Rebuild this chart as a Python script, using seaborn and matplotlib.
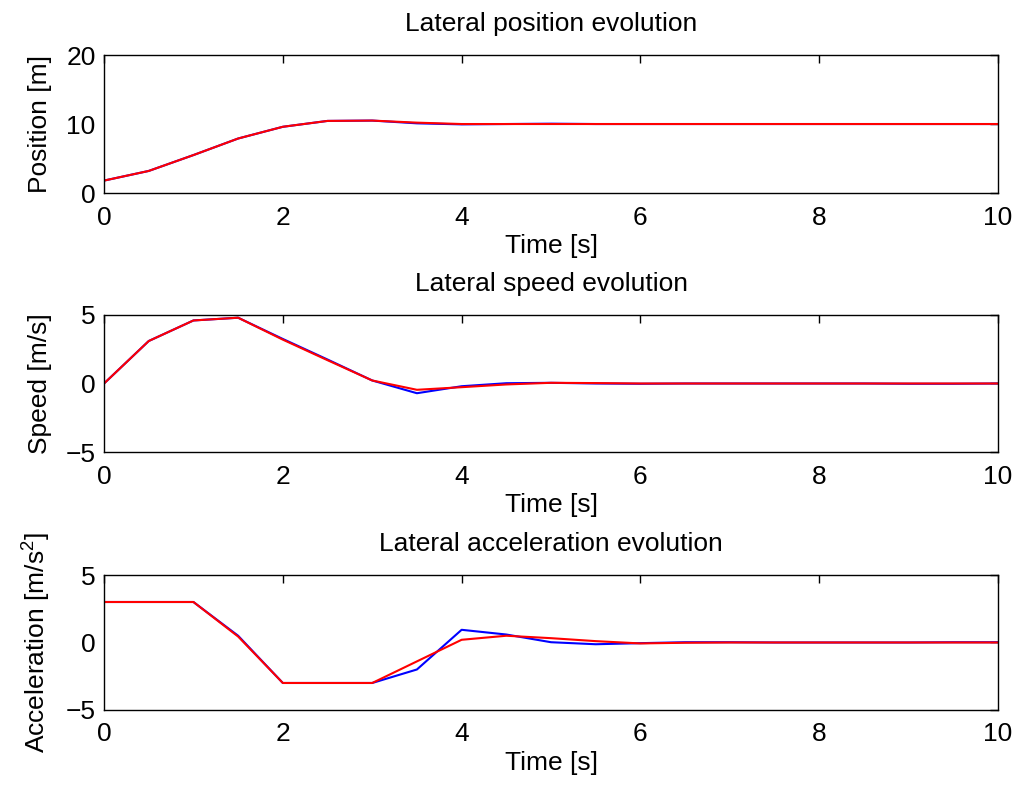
import matplotlib
matplotlib.use("Agg")
import matplotlib.pyplot as plt
import seaborn as sns
import pandas as pd

# time samples (0.5 s step)
time = [0.0, 0.5, 1.0, 1.5, 2.0, 2.5, 3.0, 3.5, 4.0, 4.5, 5.0,
        5.5, 6.0, 6.5, 7.0, 7.5, 8.0, 8.5, 9.0, 9.5, 10.0]

pos_blue = [1.8, 3.2, 5.5, 7.9, 9.6, 10.45, 10.5, 10.1, 9.95, 10.0, 10.05,
            10.0, 10.0, 10.0, 10.0, 10.0, 10.0, 10.0, 10.0, 10.0, 10.0]
pos_red = [1.8, 3.2, 5.5, 7.9, 9.6, 10.45, 10.5, 10.2, 10.0, 10.0, 10.0,
           10.0, 10.0, 10.0, 10.0, 10.0, 10.0, 10.0, 10.0, 10.0, 10.0]

speed_blue = [0.0, 3.1, 4.6, 4.8, 3.25, 1.75, 0.22, -0.71, -0.2, 0.02, 0.05,
              0.0, -0.02, 0.0, 0.0, 0.0, 0.0, 0.0, -0.02, -0.02, 0.0]
speed_red = [0.0, 3.1, 4.6, 4.8, 3.2, 1.7, 0.22, -0.46, -0.27, -0.07, 0.05,
             0.03, 0.0, 0.0, 0.0, 0.0, 0.0, 0.0, 0.0, 0.0, 0.0]

acc_blue = [3.0, 3.0, 3.0, 0.5, -3.0, -3.0, -3.0, -2.0, 0.94, 0.59, 0.02,
            -0.13, -0.05, 0.02, 0.02, 0.0, 0.0, 0.0, 0.0, 0.02, 0.02]
acc_red = [3.0, 3.0, 3.0, 0.44, -3.0, -3.0, -3.0, -1.4, 0.2, 0.5, 0.32,
           0.1, -0.07, -0.02, 0.0, 0.0, 0.0, 0.0, 0.0, 0.0, 0.0]

panels = [
    ("Lateral position evolution", "Position [m]", pos_blue, pos_red, (0, 20), [0, 10, 20]),
    ("Lateral speed evolution", "Speed [m/s]", speed_blue, speed_red, (-5, 5), [-5, 0, 5]),
    ("Lateral acceleration evolution", "Acceleration [m/s$^2$]", acc_blue, acc_red, (-5, 5), [-5, 0, 5]),
]

sns.set_style("white")
plt.rcParams['font.family'] = ['Liberation Sans', 'DejaVu Sans']
plt.rcParams['mathtext.fontset'] = 'custom'
plt.rcParams['mathtext.rm'] = 'Liberation Sans'
plt.rcParams['font.size'] = 19
for k in ['text.color', 'axes.labelcolor', 'xtick.color', 'ytick.color']:
    plt.rcParams[k] = 'black'

fig = plt.figure(figsize=(10.24, 7.93), dpi=100)
boxes = [[0.1016, 0.7566, 0.873, 0.174],
         [0.1016, 0.4300, 0.873, 0.1728],
         [0.1016, 0.1047, 0.873, 0.1702]]

for box, (title, ylabel, blue, red, ylim, yticks) in zip(boxes, panels):
    ax = fig.add_axes(box)
    df = pd.DataFrame({"t": time, "blue": blue, "red": red})
    sns.lineplot(data=df, x="t", y="blue", ax=ax, color="#0000ff", linewidth=1.5)
    sns.lineplot(data=df, x="t", y="red", ax=ax, color="#ff0000", linewidth=1.5)
    ax.set_xlim(0, 10)
    ax.set_ylim(*ylim)
    ax.set_xticks([0, 2, 4, 6, 8, 10])
    ax.set_yticks(yticks)
    ax.tick_params(direction="in", top=True, right=True, length=6, width=1,
                   labelsize=19, color="black")
    ax.tick_params(axis="x", pad=9)
    ax.tick_params(axis="y", pad=6)
    for s in ax.spines.values():
        s.set_color("black")
        s.set_linewidth(1)
    ax.set_title(title, fontsize=19, pad=17)
    ax.set_xlabel("Time [s]", fontsize=19, labelpad=3)
    ax.set_ylabel(ylabel, fontsize=19, labelpad=10)

fig.savefig("out.png", dpi=100)
